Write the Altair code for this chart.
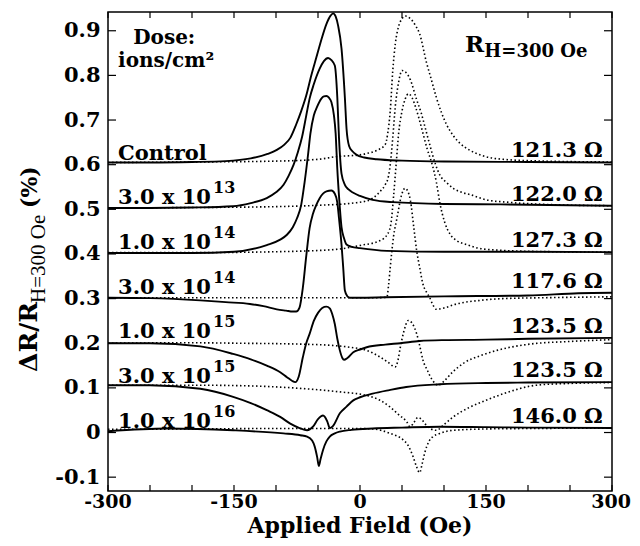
import altair as alt
import pandas as pd

# ---------------- data ----------------
# Control
ctrl_s_x = [-300, -250, -200, -160, -130, -110, -99, -90, -83, -76, -70, -64, -58, -52, -46, -40, -35, -32, -29, -26, -22, -18, -16, -13, -9, -4, 5, 20, 50, 100, 200, 300]
ctrl_s_y = [0.605, 0.605, 0.606, 0.608, 0.614, 0.624, 0.633, 0.645, 0.66, 0.69, 0.72, 0.755, 0.8, 0.84, 0.88, 0.915, 0.934, 0.939, 0.932, 0.911, 0.86, 0.75, 0.68, 0.642, 0.63, 0.622, 0.616, 0.612, 0.609, 0.607, 0.606, 0.605]
ctrl_d_x = [-300, -200, -100, -50, -28, 0, 8, 20, 30, 33, 36, 39, 42, 46, 50, 54, 60, 66, 71, 79, 85, 91, 103, 111, 119, 131, 146, 170, 220, 300]
ctrl_d_y = [0.605, 0.606, 0.608, 0.612, 0.618, 0.622, 0.625, 0.632, 0.645, 0.67, 0.72, 0.81, 0.87, 0.91, 0.927, 0.933, 0.927, 0.912, 0.893, 0.83, 0.79, 0.75, 0.69, 0.665, 0.648, 0.632, 0.62, 0.612, 0.608, 0.606]

# 3.0 x 10^13
d13a_s_x = [-300, -250, -200, -151, -130, -111, -100, -91, -85, -79, -74, -69, -64, -60, -55, -48, -43, -38, -34, -30, -27, -25, -22, -18, -14, -8, 0, 15, 39, 100, 167, 300]
d13a_s_y = [0.503, 0.503, 0.504, 0.507, 0.514, 0.525, 0.538, 0.555, 0.575, 0.6, 0.628, 0.662, 0.71, 0.748, 0.78, 0.815, 0.832, 0.839, 0.834, 0.822, 0.75, 0.66, 0.58, 0.555, 0.545, 0.537, 0.53, 0.521, 0.516, 0.512, 0.511, 0.508]
d13a_d_x = [-300, -200, -100, -50, -8, 10, 15, 24, 30, 34, 36, 39, 42, 46, 50, 55, 60, 67, 73, 78, 83, 90, 95, 103, 111, 121, 131, 151, 175, 220, 300]
d13a_d_y = [0.503, 0.504, 0.506, 0.509, 0.514, 0.52, 0.525, 0.54, 0.555, 0.575, 0.6, 0.66, 0.73, 0.785, 0.811, 0.806, 0.79, 0.748, 0.715, 0.68, 0.645, 0.6, 0.577, 0.56, 0.547, 0.538, 0.533, 0.521, 0.516, 0.511, 0.508]

# 1.0 x 10^14
d14a_s_x = [-300, -200, -150, -111, -95, -87, -80, -75, -70, -66, -62, -59, -55, -51, -46, -43, -40, -37, -34, -31, -29, -27, -25, -22, -19, -16, -10, 0, 32, 100, 200, 300]
d14a_s_y = [0.402, 0.402, 0.405, 0.42, 0.432, 0.443, 0.46, 0.48, 0.51, 0.56, 0.62, 0.67, 0.71, 0.73, 0.748, 0.753, 0.754, 0.75, 0.74, 0.71, 0.67, 0.59, 0.53, 0.46, 0.435, 0.421, 0.416, 0.413, 0.407, 0.405, 0.405, 0.404]
d14a_d_x = [-300, -200, -100, -30, 0, 24, 33, 37, 40, 43, 46, 50, 54, 57.5, 62, 66, 70, 75, 80, 86, 91, 95, 101, 107, 115, 127, 147, 200, 300]
d14a_d_y = [0.403, 0.403, 0.405, 0.41, 0.419, 0.43, 0.445, 0.47, 0.53, 0.6, 0.67, 0.72, 0.748, 0.759, 0.75, 0.73, 0.705, 0.67, 0.635, 0.6, 0.56, 0.515, 0.47, 0.445, 0.43, 0.421, 0.411, 0.406, 0.404]

# 3.0 x 10^14
d14b_s_x = [-300, -250, -190, -160, -131, -115, -99, -88, -80, -76, -72, -68, -64, -60, -56, -52, -48, -44, -40, -34, -30, -27, -25, -22, -20, -18, -15, -12, -6, 0, 30, 100, 200, 260, 300]
d14b_s_y = [0.302, 0.301, 0.296, 0.292, 0.288, 0.283, 0.276, 0.273, 0.271, 0.271, 0.28, 0.325, 0.395, 0.458, 0.49, 0.51, 0.525, 0.535, 0.54, 0.542, 0.535, 0.515, 0.48, 0.421, 0.37, 0.318, 0.305, 0.302, 0.302, 0.302, 0.303, 0.305, 0.307, 0.312, 0.313]
d14b_d_x = [-300, -200, -100, 0, 20, 32, 34, 36, 40, 44, 49.6, 53.6, 57, 60, 64, 67.5, 71, 75, 79, 83, 87, 91, 100, 115, 143, 170, 220, 300]
d14b_d_y = [0.302, 0.302, 0.302, 0.302, 0.302, 0.303, 0.33, 0.37, 0.44, 0.48, 0.533, 0.547, 0.54, 0.52, 0.46, 0.407, 0.37, 0.332, 0.315, 0.302, 0.285, 0.276, 0.279, 0.288, 0.296, 0.3, 0.302, 0.304]

# 1.0 x 10^15
d15a_s_x = [-300, -250, -190, -151, -130, -111, -95, -87, -81, -77, -73, -68, -64, -60, -55, -50, -45, -40, -36, -33, -30, -27, -24, -21, -19, -15, -8, 0, 8, 30, 48, 71, 100, 150, 200, 300]
d15a_s_y = [0.2, 0.2, 0.193, 0.176, 0.164, 0.15, 0.135, 0.124, 0.116, 0.113, 0.125, 0.169, 0.2, 0.221, 0.25, 0.268, 0.279, 0.282, 0.278, 0.265, 0.243, 0.21, 0.184, 0.167, 0.163, 0.167, 0.18, 0.186, 0.191, 0.197, 0.2, 0.205, 0.207, 0.208, 0.21, 0.212]
d15a_d_x = [-300, -200, -143, -71, -32, -12, 8, 24, 33, 42, 45, 48, 52, 57.5, 62, 67.5, 71, 75, 80, 86, 93, 100, 110, 123, 143, 163, 202, 250, 300]
d15a_d_y = [0.2, 0.201, 0.2, 0.198, 0.195, 0.191, 0.184, 0.169, 0.158, 0.147, 0.16, 0.191, 0.225, 0.251, 0.245, 0.221, 0.195, 0.162, 0.14, 0.118, 0.106, 0.115, 0.135, 0.155, 0.172, 0.184, 0.198, 0.204, 0.208]

# 3.0 x 10^15
d15b_s_x = [-300, -250, -190, -151, -130, -111, -95, -83, -72, -63, -56, -50, -44, -39, -36, -32, -24, -16, -8, 0, 15, 35, 55, 95, 150, 200, 300]
d15b_s_y = [0.106, 0.106, 0.098, 0.08, 0.066, 0.05, 0.035, 0.02, 0.01, 0.005, 0.013, 0.03, 0.038, 0.025, 0.01, 0.015, 0.043, 0.058, 0.072, 0.079, 0.087, 0.095, 0.102, 0.108, 0.111, 0.112, 0.113]
d15b_d_x = [-300, -200, -143, -80, -24, 8, 24, 36, 46, 55.6, 59.5, 64, 69, 74, 79, 83, 87, 91, 100, 111, 131, 151, 171, 210, 250, 300]
d15b_d_y = [0.106, 0.106, 0.105, 0.1, 0.091, 0.083, 0.072, 0.057, 0.04, 0.024, 0.013, 0.022, 0.034, 0.028, 0.016, 0.01, 0.006, 0.005, 0.018, 0.035, 0.057, 0.073, 0.087, 0.106, 0.11, 0.112]

# 1.0 x 10^16
d16_s_x = [-300, -230, -151, -91, -71, -63, -57, -54, -51, -49, -47, -44, -40, -36, -30, -24, -10, 15, 50, 95, 150, 200, 300]
d16_s_y = [0.003, 0.009, 0.005, -0.002, -0.006, -0.009, -0.018, -0.031, -0.055, -0.075, -0.06, -0.039, -0.02, -0.009, -0.002, 0.002, 0.006, 0.009, 0.011, 0.013, 0.012, 0.011, 0.01]
d16_d_x = [-300, -200, -100, 0, 15, 36, 51, 57, 63, 67, 71, 74, 77, 82, 87, 95, 111, 150, 200, 300]
d16_d_y = [0.007, 0.008, 0.009, 0.009, 0.008, -0.002, -0.016, -0.028, -0.053, -0.075, -0.09, -0.07, -0.046, -0.02, -0.009, -0.002, 0.005, 0.008, 0.009, 0.01]

# labels
dose_base = ["Control", "3.0 x 10", "1.0 x 10", "3.0 x 10", "1.0 x 10", "3.0 x 10", "1.0 x 10"]
dose_exp = ["", "13", "14", "14", "15", "15", "16"]
dose_level = [0.6, 0.5, 0.4, 0.3, 0.2, 0.1, 0.0]
res_labels = ["121.3 Ω", "122.0 Ω", "127.3 Ω", "117.6 Ω", "123.5 Ω", "123.5 Ω", "146.0 Ω"]
res_level = [0.605, 0.508, 0.404, 0.313, 0.212, 0.113, 0.01]

x_ticks_major = [-300, -150, 0, 150]
x_tick_text = ["-300", "-150", "0", "150"]
x_last_tick = [300]
x_last_text = ["300"]
x_ticks_all = [-300, -250, -200, -150, -100, -50, 0, 50, 100, 150, 200, 250, 300]
y_ticks = [-0.1, 0.0, 0.1, 0.2, 0.3, 0.4, 0.5, 0.6, 0.7, 0.8, 0.9]

# ---------------- build tables ----------------
curves = [
    ("ctrl", "solid", ctrl_s_x, ctrl_s_y), ("ctrl", "dotted", ctrl_d_x, ctrl_d_y),
    ("d13a", "solid", d13a_s_x, d13a_s_y), ("d13a", "dotted", d13a_d_x, d13a_d_y),
    ("d14a", "solid", d14a_s_x, d14a_s_y), ("d14a", "dotted", d14a_d_x, d14a_d_y),
    ("d14b", "solid", d14b_s_x, d14b_s_y), ("d14b", "dotted", d14b_d_x, d14b_d_y),
    ("d15a", "solid", d15a_s_x, d15a_s_y), ("d15a", "dotted", d15a_d_x, d15a_d_y),
    ("d15b", "solid", d15b_s_x, d15b_s_y), ("d15b", "dotted", d15b_d_x, d15b_d_y),
    ("d16", "solid", d16_s_x, d16_s_y), ("d16", "dotted", d16_d_x, d16_d_y),
]
rows = []
for name, style, xs, ys in curves:
    for i, (a, b) in enumerate(zip(xs, ys)):
        rows.append({"curve": name + "_" + style, "style": style, "x": a, "y": b, "i": i})
df = pd.DataFrame(rows)

FONT = "DejaVu Serif"
W, H = 504, 479

ylab = "datum.value == 0 ? '0' : (datum.value < 0 ? '-' + format(-datum.value, '.1f') : format(datum.value, '.1f'))"

X = alt.X("x:Q", scale=alt.Scale(domain=[-300, 300], nice=False, zero=False), axis=None)
Y = alt.Y("y:Q", scale=alt.Scale(domain=[-0.131, 0.942], nice=False, zero=False),
          axis=alt.Axis(values=y_ticks, labelExpr=ylab, title=None, ticks=False, domain=False,
                        grid=False, labelPadding=8, labelOverlap=False, labelFontSize=21))

base = alt.Chart(df)
solid = base.transform_filter(alt.datum.style == "solid").mark_line(
    color="black", strokeWidth=1.9, interpolate="monotone"
).encode(x=X, y=Y, detail="curve:N", order="i:Q")
dotted = base.transform_filter(alt.datum.style == "dotted").mark_line(
    color="black", strokeWidth=1.6, strokeDash=[1.5, 2.5], interpolate="monotone"
).encode(x=X, y=Y, detail="curve:N", order="i:Q")

# inward ticks
yt = alt.Chart(pd.DataFrame({"y": y_ticks}))
xt = alt.Chart(pd.DataFrame({"x": x_ticks_all}))
tick_left = yt.mark_rule(color="black", strokeWidth=1.2).encode(y=Y, x=alt.value(0), x2=alt.value(8))
tick_right = yt.mark_rule(color="black", strokeWidth=1.2).encode(y=Y, x=alt.value(W - 8), x2=alt.value(W))
tick_bottom = xt.mark_rule(color="black", strokeWidth=1.2).encode(x=X, y=alt.value(H - 6), y2=alt.value(H))
tick_top = xt.mark_rule(color="black", strokeWidth=1.2).encode(x=X, y=alt.value(0), y2=alt.value(6))

# x tick labels
xl_df = pd.DataFrame({"x": x_ticks_major, "t": x_tick_text})
xl_txt = alt.Chart(xl_df).mark_text(
    align="center", baseline="alphabetic", font=FONT, fontWeight="bold", fontSize=19, color="black"
).encode(x=X, y=alt.value(H + 17), text="t:N")
xl2_df = pd.DataFrame({"x": x_last_tick, "t": x_last_text})
xl2_txt = alt.Chart(xl2_df).mark_text(
    align="right", baseline="alphabetic", dx=19, font=FONT, fontWeight="bold", fontSize=19, color="black"
).encode(x=X, y=alt.value(H + 17), text="t:N")

# dose labels
lab_df = pd.DataFrame({"x": [-288] * 7, "y": dose_level, "t": dose_base, "e": dose_exp})
dose_txt = alt.Chart(lab_df).mark_text(
    align="left", baseline="alphabetic", dy=-5, font=FONT, fontWeight="bold", fontSize=21, color="black"
).encode(x=X, y=Y, text="t:N")
dose_sup = alt.Chart(lab_df).mark_text(
    align="left", baseline="alphabetic", dx=95, dy=-16, font=FONT, fontWeight="bold", fontSize=16, color="black"
).encode(x=X, y=Y, text="e:N")

res_df = pd.DataFrame({"x": [289] * 7, "y": res_level, "t": res_labels})
res_txt = alt.Chart(res_df).mark_text(
    align="right", baseline="alphabetic", dy=-5, font=FONT, fontWeight="bold", fontSize=21, color="black"
).encode(x=X, y=Y, text="t:N")

# header annotations
hdr_df = pd.DataFrame({"x": [-270, -288], "y": [0.870, 0.819], "t": ["Dose:", "ions/cm²"]})
hdr_txt = alt.Chart(hdr_df).mark_text(
    align="left", baseline="alphabetic", font=FONT, fontWeight="bold", fontSize=20, color="black"
).encode(x=X, y=Y, text="t:N")
rh_df = pd.DataFrame({"x": [125], "y": [0.852], "t": ["R"]})
rh_txt = alt.Chart(rh_df).mark_text(
    align="left", baseline="alphabetic", font=FONT, fontWeight="bold", fontSize=23, color="black"
).encode(x=X, y=Y, text="t:N")
rs_df = pd.DataFrame({"x": [148], "y": [0.841], "t": ["H=300 Oe"]})
rs_txt = alt.Chart(rs_df).mark_text(
    align="left", baseline="alphabetic", font=FONT, fontWeight="bold", fontSize=18, color="black"
).encode(x=X, y=Y, text="t:N")

# axis titles as text
xtitle = alt.Chart(pd.DataFrame({"t": ["Applied Field (Oe)"]})).mark_text(
    align="center", baseline="alphabetic", font=FONT, fontWeight="bold", fontSize=22, color="black"
).encode(x=alt.value(W / 2), y=alt.value(521), text="t:N")
yt1 = alt.Chart(pd.DataFrame({"t": ["ΔR/R"]})).mark_text(
    align="left", baseline="middle", angle=270, font=FONT, fontWeight="bold", fontSize=25, color="black"
).encode(x=alt.value(-79), y=alt.value(360), text="t:N")
yt2 = alt.Chart(pd.DataFrame({"t": ["H=300 Oe"]})).mark_text(
    align="left", baseline="middle", angle=270, font="Liberation Serif", fontSize=21, color="black"
).encode(x=alt.value(-69), y=alt.value(291), text="t:N")
yt3 = alt.Chart(pd.DataFrame({"t": ["(%)"]})).mark_text(
    align="left", baseline="middle", angle=270, font=FONT, fontWeight="bold", fontSize=22, color="black"
).encode(x=alt.value(-78), y=alt.value(196), text="t:N")

chart = alt.layer(
    solid, dotted, tick_left, tick_right, tick_bottom, tick_top, xl_txt, xl2_txt,
    dose_txt, dose_sup, res_txt, hdr_txt, rh_txt, rs_txt, xtitle, yt1, yt2, yt3
).properties(
    width=W, height=H,
    autosize=alt.AutoSizeParams(type="none"),
    padding={"left": 100, "top": 4, "right": 20, "bottom": 47},
).configure_view(
    stroke="black", strokeWidth=1.5
).configure_axis(
    labelFont=FONT, labelFontWeight="bold", labelColor="black"
)

chart.save("out.html", embed_options={"renderer": "svg", "actions": False})
